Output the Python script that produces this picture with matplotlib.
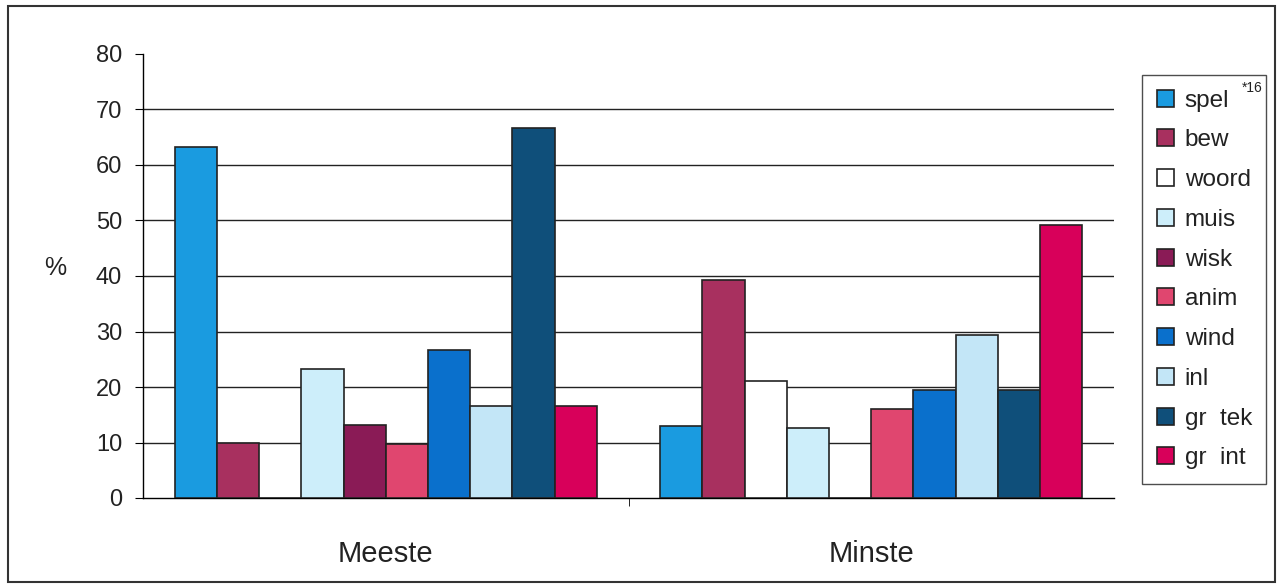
import numpy as np
import matplotlib.pyplot as plt
from matplotlib.patches import Rectangle

plt.rcParams['font.family'] = ['Liberation Sans', 'DejaVu Sans']

# Categories and series (percentages)
categories = ["Meeste", "Minste"]
series = ["spel", "bew", "woord", "muis", "wisk", "anim", "wind", "inl", "gr  tek", "gr  int"]
spel = [63.3, 12.9]
bew = [10.0, 39.3]
woord = [0.0, 21.1]
muis = [23.3, 12.7]
wisk = [13.1, 0.0]
anim = [9.8, 16.1]
wind = [26.6, 19.5]
inl = [16.5, 29.4]
gr_tek = [66.7, 19.4]
gr_int = [16.5, 49.2]
values = [spel, bew, woord, muis, wisk, anim, wind, inl, gr_tek, gr_int]
colors = ['#1a9be0', '#a8305f', '#ffffff', '#cdeefa', '#8a1b56',
          '#e0466f', '#0a70cc', '#c3e6f7', '#0f4f7a', '#d8005a']
y_ticks = [0, 10, 20, 30, 40, 50, 60, 70, 80]

fig = plt.figure(figsize=(12.78, 5.85), dpi=100)
ax = fig.add_axes([143/1278, 1-498/585, (1114-143)/1278, (498-54)/585])

n = len(series)
width = 1.0 / (n + 1.5)
x = np.arange(len(categories))
handles = []
for i, (name, vals, c) in enumerate(zip(series, values, colors)):
    offs = (i - (n - 1) / 2) * width
    b = ax.bar(x + offs, vals, width, color=c, edgecolor='#222222', linewidth=1.2,
               label=name, zorder=3)
    handles.append(b)

# Formatting
ax.set_xlim(-0.5, 1.5)
ax.set_ylim(0, 80)
ax.set_yticks(y_ticks)
ax.tick_params(axis='y', labelsize=17, length=6, direction='out', pad=9,
               labelcolor='#222222')
for yv in y_ticks[1:-1]:
    ax.axhline(yv, color='#222222', linewidth=1.0, zorder=1)
ax.set_xticks(x)
ax.set_xticklabels(categories, fontsize=21, color='#222222')
ax.tick_params(axis='x', length=0, pad=30)
ax.set_xticks([0.5], minor=True)
ax.tick_params(axis='x', which='minor', length=6, direction='out')
for s in ['top', 'right']:
    ax.spines[s].set_visible(False)
ax.spines['left'].set_linewidth(1.0)
ax.spines['bottom'].set_linewidth(1.0)

fig.text(55/1278, 1-268/585, "%", fontsize=18, ha='center', va='center',
         color='#222222')

leg = fig.legend(handles=handles, loc='upper left',
                 bbox_to_anchor=(1142/1278, 1-75/585), fontsize=17.5,
                 frameon=True, fancybox=False, edgecolor='#222222',
                 handlelength=0.7, handleheight=0.7, handletextpad=0.45,
                 labelspacing=0.73, borderpad=0.6, borderaxespad=0,
                 labelcolor='#222222')
leg.get_frame().set_linewidth(1.0)
fig.text(1252/1278, 1-88/585, "*16", fontsize=10, ha='center', va='center',
         color='#222222', zorder=10)

# outer border
fig.patches.append(Rectangle((8/1278, 3/585), 1267/1278, 576/585,
                             transform=fig.transFigure, fill=False,
                             edgecolor='#333333', linewidth=1.5))

fig.savefig("out.png", dpi=100)
